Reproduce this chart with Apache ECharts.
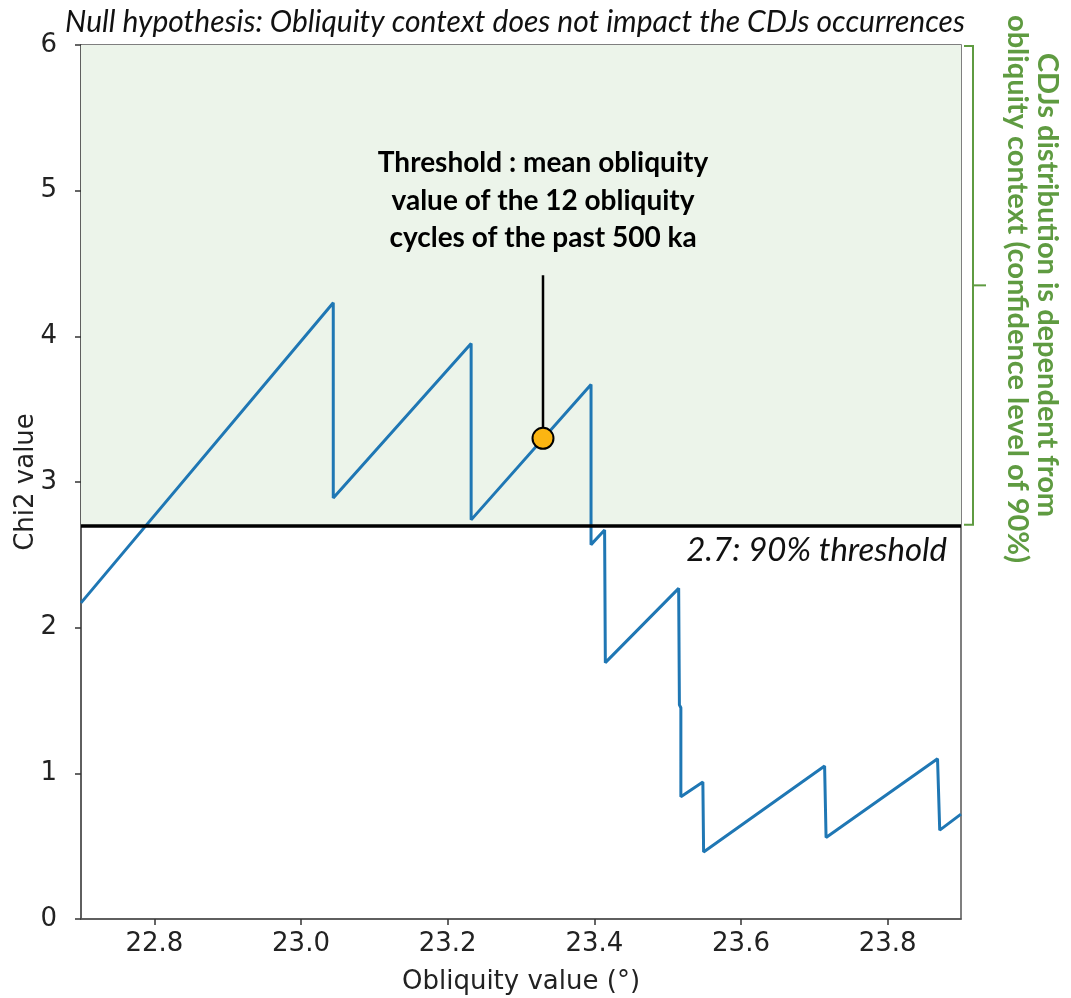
<!DOCTYPE html>
<html>
<head>
<meta charset="utf-8">
<script src="https://cdn.jsdelivr.net/npm/echarts@6/dist/echarts.min.js"></script>
<style>
  html, body { margin: 0; padding: 0; background: #fff; }
  #chart { width: 1071px; height: 998px; }
</style>
</head>
<body>
<div id="chart"></div>
<script>
// Chi2 statistic as a function of the obliquity threshold (vertices of the curve)
const obliquity = [22.700, 23.044, 23.044, 23.232, 23.232, 23.3955, 23.3955, 23.414, 23.415,
                   23.515, 23.516, 23.518, 23.518, 23.548, 23.549, 23.714, 23.716, 23.868, 23.871, 23.900];
const chi2 = [2.17, 4.23, 2.89, 3.95, 2.74, 3.67, 2.57, 2.67, 1.76,
              2.27, 1.47, 1.45, 0.84, 0.94, 0.46, 1.05, 0.56, 1.10, 0.61, 0.72];

// 90% significance level of the chi2 test
const threshold = 2.7;
// mean obliquity of the 12 cycles of the past 500 ka, and its chi2 value
const meanObliquity = 23.33;
const meanChi2 = 3.30;
const leaderTop = 4.42;

const xTicks = [22.8, 23.0, 23.2, 23.4, 23.6, 23.8];
const yTicks = [0, 1, 2, 3, 4, 5, 6];

const titleText = 'Null hypothesis: Obliquity context does not impact the CDJs occurrences';
const thresholdText = '2.7: 90% threshold';
const meanText = 'Threshold : mean obliquity\nvalue of the 12 obliquity\ncycles of the past 500 ka';
const sideLine1 = 'CDJs distribution is dependent from';
const sideLine2 = 'obliquity context (confidence level of 90%)';

const green = '#5f9b41';
const chart = echarts.init(document.getElementById('chart'), null, { renderer: 'canvas' });

const curve = obliquity.map((x, i) => [x, chi2[i]]);

chart.setOption({
  animation: false,
  backgroundColor: '#fff',
  grid: { left: 81, top: 45, right: 110, bottom: 79, outerBoundsMode: 'none', containLabel: false,
          show: true, borderColor: '#555', borderWidth: 1.5, backgroundColor: 'transparent' },
  xAxis: {
    type: 'value', min: 22.7, max: 23.9,
    name: 'Obliquity value (°)', nameLocation: 'middle', nameGap: 50, nameMoveOverlap: false,
    nameTextStyle: { fontFamily: 'DejaVu Sans', fontSize: 26, color: '#222' },
    axisLine: { show: true, onZero: false, lineStyle: { color: '#555', width: 1.5 } },
    axisTick: { show: true, length: 6, customValues: xTicks, lineStyle: { color: '#333', width: 1.5 } },
    axisLabel: { customValues: xTicks, margin: 12, fontFamily: 'DejaVu Sans', fontSize: 26, color: '#222',
                 formatter: v => v.toFixed(1) },
    splitLine: { show: false }
  },
  yAxis: {
    type: 'value', min: 0, max: 6, interval: 1,
    name: 'Chi2 value', nameLocation: 'middle', nameGap: 42, nameMoveOverlap: false,
    nameTextStyle: { fontFamily: 'DejaVu Sans', fontSize: 26, color: '#222' },
    axisLine: { show: true, lineStyle: { color: '#555', width: 1.5 } },
    axisTick: { show: true, length: 6, lineStyle: { color: '#333', width: 1.5 } },
    axisLabel: { margin: 24, fontFamily: 'DejaVu Sans', fontSize: 26, color: '#222', formatter: v => String(v) },
    splitLine: { show: false }
  },
  series: [
    {
      type: 'line', data: curve, showSymbol: false, z: 3,
      lineStyle: { color: '#1f77b4', width: 3 },
      markArea: {
        silent: true,
        itemStyle: { color: '#ecf4ea' },
        data: [[{ yAxis: threshold }, { yAxis: 6 }]]
      },
      markLine: {
        silent: true, symbol: 'none', z: 4,
        lineStyle: { color: '#000', width: 3.5, type: 'solid' },
        label: {
          show: true, position: 'insideEndBottom', distance: [14, 8],
          formatter: thresholdText,
          fontFamily: 'Lato', fontStyle: 'italic', fontSize: 33, color: '#111'
        },
        data: [{ yAxis: threshold }]
      }
    },
    {
      type: 'line', data: [[meanObliquity, meanChi2], [meanObliquity, leaderTop]],
      showSymbol: false, z: 4, lineStyle: { color: '#000', width: 2.5 }
    },
    {
      type: 'scatter', data: [[meanObliquity, meanChi2]], z: 10,
      symbolSize: 21,
      itemStyle: { color: '#fbb512', borderColor: '#000', borderWidth: 2, opacity: 1 }
    }
  ]
});

// text annotations and the bracket on the right
const leadTop = chart.convertToPixel({ gridIndex: 0 }, [meanObliquity, leaderTop]);
const plotTop = chart.convertToPixel({ gridIndex: 0 }, [23.9, 6]);
const plotThr = chart.convertToPixel({ gridIndex: 0 }, [23.9, threshold]);
const bx = plotTop[0] + 3;
const bMid = (plotTop[1] + plotThr[1]) / 2;

chart.setOption({
  graphic: [
    {
      type: 'text', x: 515, y: 22, z: 100,
      style: { text: titleText, fontFamily: 'Lato', fontStyle: 'italic', fontSize: 30, fill: '#111',
               textAlign: 'center', textVerticalAlign: 'middle' }
    },
    {
      type: 'text', x: leadTop[0], y: leadTop[1] - 18, z: 100,
      style: { text: meanText, fontFamily: 'Lato', fontWeight: 'bold', fontSize: 28, lineHeight: 37.5,
               fill: '#000', textAlign: 'center', textVerticalAlign: 'bottom' }
    },
    {
      type: 'polyline', z: 100,
      shape: { points: [[bx, plotTop[1] + 1], [bx + 9, plotTop[1] + 1], [bx + 9, plotThr[1] - 1], [bx, plotThr[1] - 1]] },
      style: { stroke: green, lineWidth: 2, fill: null }
    },
    {
      type: 'line', z: 100,
      shape: { x1: bx + 9, y1: bMid, x2: bx + 22, y2: bMid },
      style: { stroke: green, lineWidth: 2 }
    },
    {
      type: 'text', x: 1047, y: 285, rotation: -Math.PI / 2, z: 100,
      style: { text: sideLine1, fontFamily: 'Lato', fontWeight: 'bold', fontSize: 29, fill: green,
               textAlign: 'center', textVerticalAlign: 'middle' }
    },
    {
      type: 'text', x: 1017, y: 289, rotation: -Math.PI / 2, z: 100,
      style: { text: sideLine2, fontFamily: 'Lato', fontWeight: 'bold', fontSize: 29, fill: green,
               textAlign: 'center', textVerticalAlign: 'middle' }
    }
  ]
});
</script>
</body>
</html>
